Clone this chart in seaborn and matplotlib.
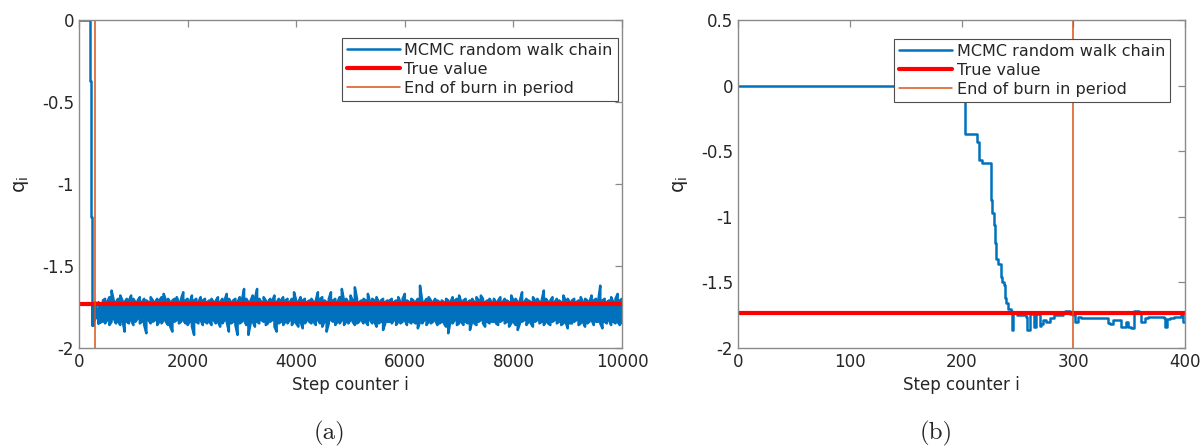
import numpy as np
import matplotlib
matplotlib.use("Agg")
import matplotlib.pyplot as plt
import seaborn as sns

# First 400 steps of the chain, kept as the steps where the value changes
early_step = [0, 203, 214, 216, 218, 226, 227, 229, 230, 231, 233, 235, 236, 238, 239,
              240, 242, 244, 245, 246, 250, 258, 259, 261, 263, 265, 267, 269, 270,
              271, 273, 276, 279, 283, 291, 293, 297, 300, 302, 304, 307, 331, 333,
              336, 343, 347, 349, 352, 354, 359, 361, 364, 367, 381, 382, 384, 387,
              390, 396, 398, 400]
early_q = [0.0, -0.37, -0.43, -0.57, -0.59, -0.87, -0.97, -1.06, -1.20, -1.32, -1.36,
           -1.46, -1.50, -1.52, -1.62, -1.66, -1.70, -1.72, -1.86, -1.73, -1.75, -1.76,
           -1.86, -1.73, -1.74, -1.84, -1.74, -1.73, -1.83, -1.82, -1.79, -1.80, -1.77,
           -1.75, -1.73, -1.72, -1.74, -1.75, -1.80, -1.76, -1.77, -1.81, -1.82, -1.79,
           -1.84, -1.80, -1.84, -1.85, -1.72, -1.73, -1.80, -1.77, -1.76, -1.77, -1.84,
           -1.78, -1.77, -1.76, -1.75, -1.80, -1.80]

# Rest of the chain (steps 400 ... 10000): highest and lowest value in each
# 40-step window
late_every = 40
late_hi = [
    -1.71, -1.70, -1.72, -1.69, -1.65, -1.71, -1.72, -1.70, -1.68, -1.71, -1.72, -1.70,
    -1.71, -1.68, -1.70, -1.72, -1.71, -1.69, -1.72, -1.70, -1.71, -1.72, -1.69, -1.71,
    -1.72, -1.70, -1.71, -1.69, -1.67, -1.71, -1.70, -1.72, -1.71, -1.70, -1.69, -1.72,
    -1.70, -1.66, -1.71, -1.70, -1.72, -1.68, -1.71, -1.70, -1.72, -1.69, -1.71, -1.70,
    -1.72, -1.71, -1.70, -1.72, -1.71, -1.69, -1.72, -1.70, -1.71, -1.67, -1.70, -1.72,
    -1.71, -1.70, -1.72, -1.69, -1.71, -1.64, -1.70, -1.72, -1.71, -1.68, -1.70, -1.64,
    -1.70, -1.72, -1.69, -1.71, -1.72, -1.70, -1.71, -1.68, -1.72, -1.70, -1.71, -1.69,
    -1.71, -1.70, -1.72, -1.70, -1.66, -1.71, -1.72, -1.69, -1.71, -1.70, -1.72, -1.71,
    -1.70, -1.72, -1.71, -1.66, -1.70, -1.69, -1.71, -1.72, -1.70, -1.66, -1.71, -1.70,
    -1.72, -1.69, -1.64, -1.71, -1.70, -1.72, -1.68, -1.71, -1.63, -1.70, -1.72, -1.71,
    -1.70, -1.71, -1.67, -1.72, -1.70, -1.71, -1.69, -1.72, -1.71, -1.70, -1.72, -1.71,
    -1.71, -1.70, -1.72, -1.71, -1.69, -1.72, -1.70, -1.67, -1.71, -1.72, -1.70, -1.71,
    -1.72, -1.70, -1.62, -1.71, -1.72, -1.70, -1.69, -1.71, -1.72, -1.70, -1.71, -1.72,
    -1.71, -1.72, -1.70, -1.71, -1.72, -1.69, -1.71, -1.70, -1.68, -1.72, -1.71, -1.70,
    -1.72, -1.71, -1.70, -1.72, -1.69, -1.71, -1.68, -1.70, -1.72, -1.71, -1.70, -1.72,
    -1.70, -1.72, -1.71, -1.69, -1.72, -1.70, -1.71, -1.72, -1.68, -1.71, -1.70, -1.72,
    -1.71, -1.66, -1.72, -1.70, -1.71, -1.72, -1.69, -1.71, -1.70, -1.72, -1.71, -1.65,
    -1.70, -1.72, -1.71, -1.69, -1.72, -1.70, -1.71, -1.72, -1.68, -1.71, -1.70, -1.72,
    -1.71, -1.70, -1.72, -1.71, -1.69, -1.72, -1.70, -1.71, -1.72, -1.68, -1.71, -1.70,
    -1.72, -1.62, -1.71, -1.70, -1.72, -1.71, -1.69, -1.72, -1.70, -1.67, -1.71, -1.70,
]
late_lo = [
    -1.84, -1.85, -1.83, -1.86, -1.84, -1.82, -1.85, -1.84, -1.86, -1.83, -1.90, -1.84,
    -1.85, -1.83, -1.86, -1.84, -1.82, -1.85, -1.84, -1.86, -1.91, -1.83, -1.85, -1.84,
    -1.83, -1.86, -1.84, -1.85, -1.83, -1.84, -1.86, -1.87, -1.90, -1.84, -1.83, -1.85,
    -1.84, -1.83, -1.85, -1.86, -1.84, -1.87, -1.92, -1.84, -1.85, -1.83, -1.86, -1.84,
    -1.85, -1.84, -1.86, -1.83, -1.85, -1.84, -1.87, -1.85, -1.83, -1.84, -1.90, -1.85,
    -1.84, -1.86, -1.92, -1.85, -1.84, -1.83, -1.86, -1.92, -1.85, -1.84, -1.87, -1.84,
    -1.85, -1.83, -1.84, -1.86, -1.85, -1.84, -1.83, -1.87, -1.90, -1.85, -1.84, -1.86,
    -1.84, -1.85, -1.83, -1.86, -1.84, -1.85, -1.87, -1.84, -1.88, -1.85, -1.83, -1.84,
    -1.85, -1.84, -1.86, -1.83, -1.85, -1.87, -1.84, -1.90, -1.85, -1.83, -1.84, -1.86,
    -1.84, -1.85, -1.83, -1.86, -1.84, -1.85, -1.83, -1.84, -1.86, -1.85, -1.84, -1.83,
    -1.85, -1.84, -1.86, -1.83, -1.85, -1.84, -1.87, -1.85, -1.84, -1.89, -1.85, -1.84,
    -1.84, -1.85, -1.83, -1.86, -1.84, -1.85, -1.84, -1.83, -1.86, -1.84, -1.85, -1.84,
    -1.85, -1.88, -1.84, -1.85, -1.83, -1.86, -1.84, -1.85, -1.84, -1.83, -1.86, -1.85,
    -1.84, -1.85, -1.87, -1.91, -1.84, -1.85, -1.83, -1.86, -1.85, -1.84, -1.86, -1.84,
    -1.85, -1.89, -1.84, -1.85, -1.86, -1.84, -1.83, -1.85, -1.87, -1.84, -1.85, -1.84,
    -1.84, -1.85, -1.86, -1.84, -1.83, -1.85, -1.84, -1.87, -1.85, -1.84, -1.86, -1.89,
    -1.85, -1.84, -1.83, -1.86, -1.84, -1.85, -1.87, -1.84, -1.83, -1.85, -1.84, -1.86,
    -1.84, -1.85, -1.86, -1.84, -1.83, -1.85, -1.84, -1.86, -1.85, -1.84, -1.88, -1.85,
    -1.85, -1.84, -1.83, -1.86, -1.85, -1.84, -1.87, -1.85, -1.84, -1.83, -1.86, -1.84,
    -1.84, -1.85, -1.88, -1.84, -1.85, -1.83, -1.86, -1.84, -1.85, -1.84, -1.86, -1.85,
]

true_q = -1.73
burn_in_end = 300

left_xticks = [0, 2000, 4000, 6000, 8000, 10000]
left_yticks = [0, -0.5, -1, -1.5, -2]
left_yticklabels = ["0", "-0.5", "-1", "-1.5", "-2"]
right_xticks = [0, 100, 200, 300, 400]
right_yticks = [0.5, 0, -0.5, -1, -1.5, -2]
right_yticklabels = ["0.5", "0", "-0.5", "-1", "-1.5", "-2"]

labels = ["MCMC random walk chain", "True value", "End of burn in period"]
captions = ["(a)", "(b)"]

blue = "#0072BD"
red = "#FF0000"
orange = "#D95319"
axis_grey = "#8a8a8a"
legend_grey = "#4d4d4d"

sns.set_style("white")
plt.rcParams["font.family"] = ["DejaVu Sans"]
plt.rcParams["axes.unicode_minus"] = False

# trace each window as a vertical stroke, going up and down in turn
n = len(late_hi)
win_step = np.arange(1, n + 1) * late_every + early_step[-1]
lo = np.array(late_lo)
hi = np.array(late_hi)
odd = np.arange(n) % 2 == 1
first = np.where(odd, hi, lo)
second = np.where(odd, lo, hi)
late_x = np.concatenate([[early_step[-1]], np.repeat(win_step, 2)])
late_y = np.concatenate([[early_q[-1]], np.column_stack([first, second]).ravel()])

fig = plt.figure(figsize=(12.02, 4.48), dpi=100)
ax1 = fig.add_axes([79 / 1202, 1 - 348 / 448, 543 / 1202, 328 / 448])
ax2 = fig.add_axes([738 / 1202, 1 - 348 / 448, 447 / 1202, 328 / 448])

# (a) whole chain
sns.lineplot(x=early_step, y=early_q, ax=ax1, color=blue, lw=1.8, drawstyle="steps-post",
             estimator=None, sort=False, label=labels[0])
sns.lineplot(x=late_x, y=late_y, ax=ax1, color=blue, lw=1.8, estimator=None, sort=False)
ax1.axhline(true_q, color=red, lw=3, label=labels[1])
ax1.axvline(burn_in_end, color=orange, lw=1.1, label=labels[2])
ax1.set_xlim(0, 10000)
ax1.set_ylim(-2, 0)
ax1.set_xticks(left_xticks)
ax1.set_xticklabels([str(t) for t in left_xticks])
ax1.set_yticks(left_yticks)
ax1.set_yticklabels(left_yticklabels)

# (b) first 400 steps
sns.lineplot(x=early_step, y=early_q, ax=ax2, color=blue, lw=1.8, drawstyle="steps-post",
             estimator=None, sort=False, label=labels[0])
ax2.axhline(true_q, color=red, lw=3, label=labels[1])
ax2.axvline(burn_in_end, color=orange, lw=1.1, label=labels[2])
ax2.set_xlim(0, 400)
ax2.set_ylim(-2, 0.5)
ax2.set_xticks(right_xticks)
ax2.set_xticklabels([str(t) for t in right_xticks])
ax2.set_yticks(right_yticks)
ax2.set_yticklabels(right_yticklabels)

legend_anchor = [(0.992, 0.945), (0.966, 0.942)]
for ax, anchor, cap, cx in zip([ax1, ax2], legend_anchor, captions, [330, 936]):
    ax.set_xlabel("Step counter i", fontsize=12, color="#262626")
    ax.set_ylabel(r"q$_\mathrm{i}$", fontsize=14, color="#262626", labelpad=8)
    ax.tick_params(direction="in", top=True, right=True, length=5, width=0.9,
                   color=axis_grey, labelsize=12, labelcolor="#262626")
    for s in ax.spines.values():
        s.set_color(axis_grey)
        s.set_linewidth(1.0)
    leg = ax.legend(loc="upper right", bbox_to_anchor=anchor, borderaxespad=0,
                    fontsize=11.5, handlelength=3.3, handletextpad=0.3, labelspacing=0.25,
                    borderpad=0.3, fancybox=False, framealpha=1, edgecolor=legend_grey)
    leg.get_frame().set_linewidth(0.8)
    fig.text(cx / 1202, 1 - 433 / 448, cap, fontsize=18, family="cmr10",
             ha="center", va="center")

fig.savefig("out.png", dpi=100)
